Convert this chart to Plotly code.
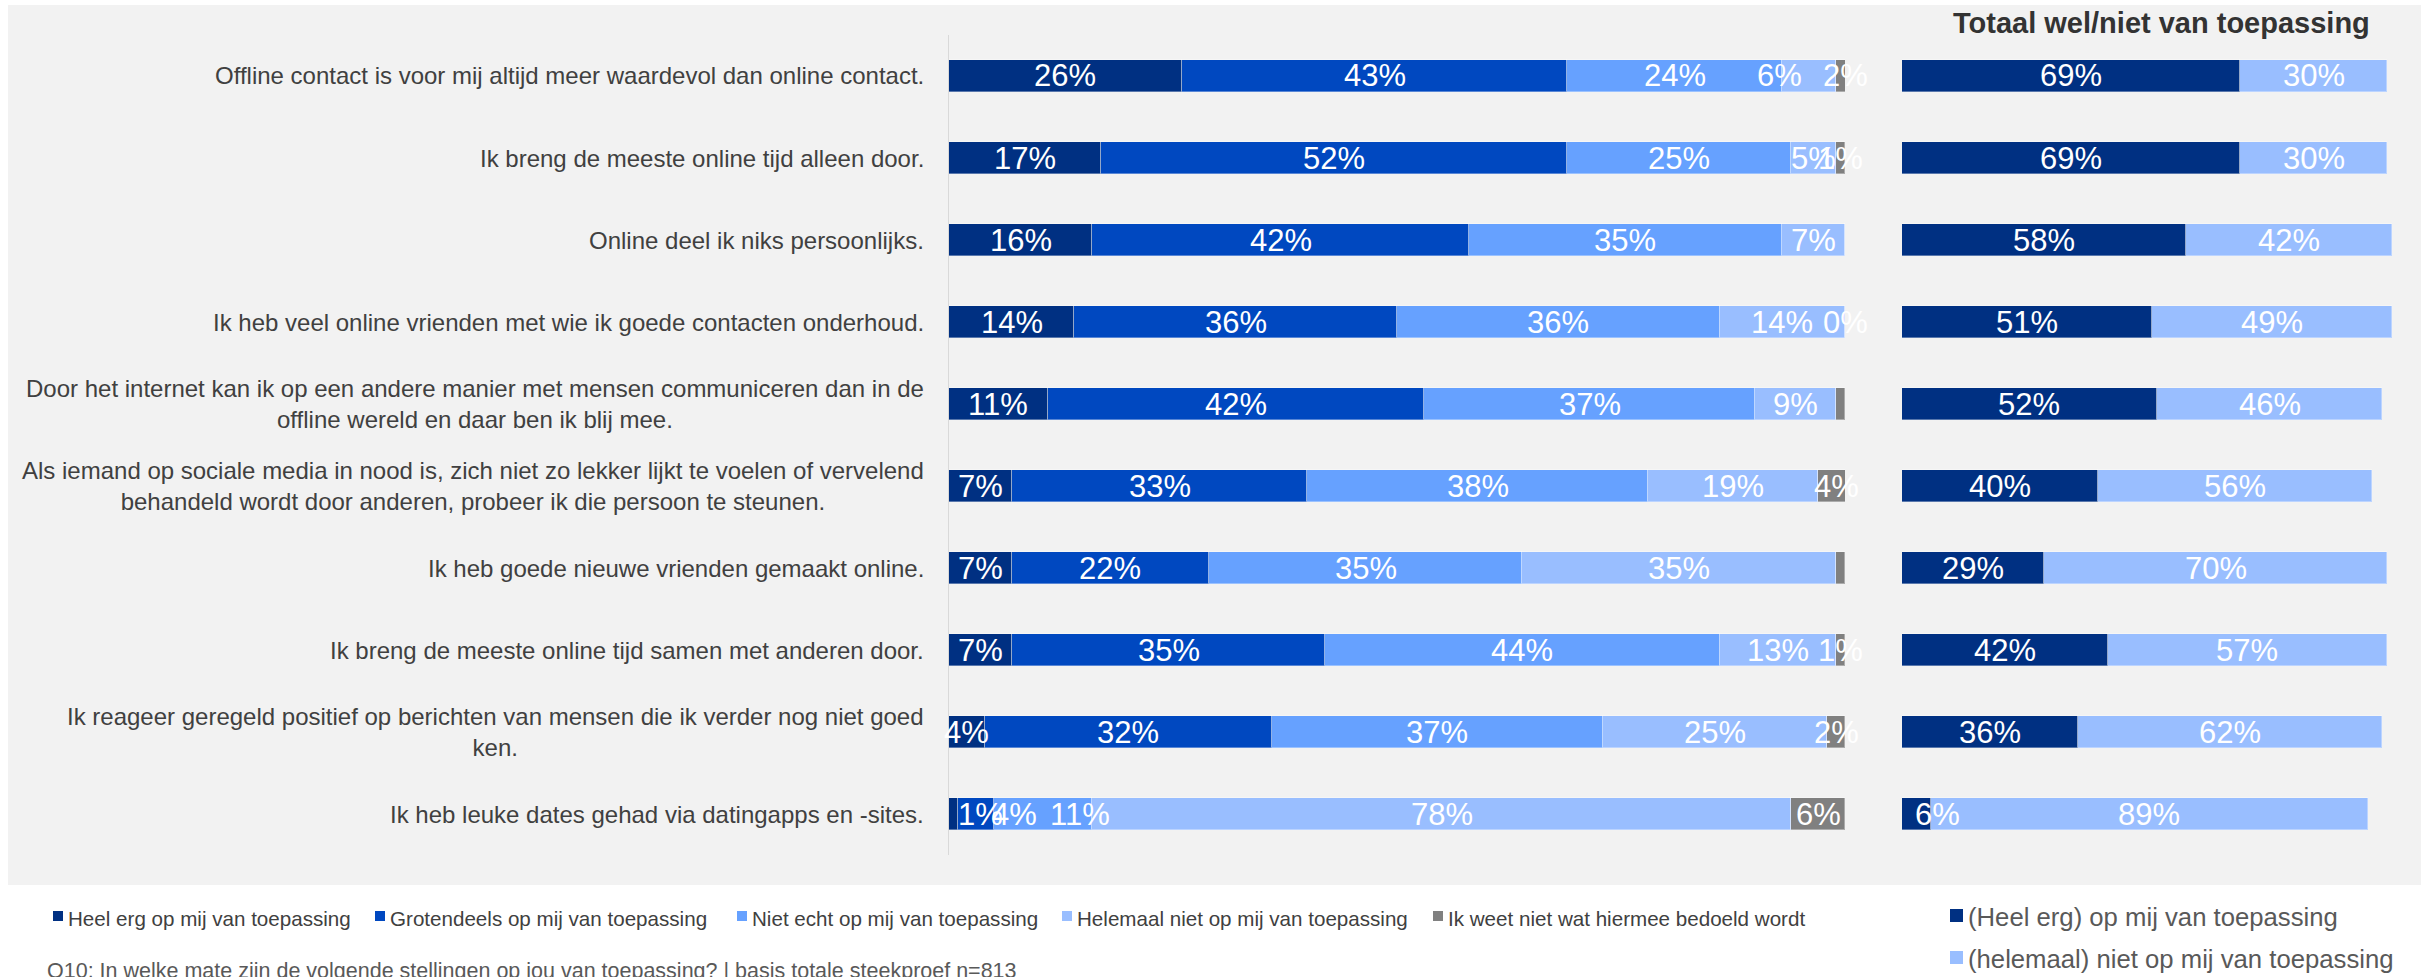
import plotly.graph_objects as go

# ---- data ----
statements = [
    "Offline contact is voor mij altijd meer waardevol dan online contact.",
    "Ik breng de meeste online tijd alleen door.",
    "Online deel ik niks persoonlijks.",
    "Ik heb veel online vrienden met wie ik goede contacten onderhoud.",
    "Door het internet kan ik op een andere manier met mensen communiceren dan in de<br>offline wereld en daar ben ik blij mee.",
    "Als iemand op sociale media in nood is, zich niet zo lekker lijkt te voelen of vervelend<br>behandeld wordt door anderen, probeer ik die persoon te steunen.",
    "Ik heb goede nieuwe vrienden gemaakt online.",
    "Ik breng de meeste online tijd samen met anderen door.",
    "Ik reageer geregeld positief op berichten van mensen die ik verder nog niet goed<br>ken.",
    "Ik heb leuke dates gehad via datingapps en -sites.",
]

series_names = [
    "Heel erg op mij van toepassing",
    "Grotendeels op mij van toepassing",
    "Niet echt op mij van toepassing",
    "Helemaal niet op mij van toepassing",
    "Ik weet niet wat hiermee bedoeld wordt",
]
heel_erg = [26, 17, 16, 14, 11, 7, 7, 7, 4, 1]
grotendeels = [43, 52, 42, 36, 42, 33, 22, 35, 32, 4]
niet_echt = [24, 25, 35, 36, 37, 38, 35, 44, 37, 11]
helemaal_niet = [6, 5, 7, 14, 9, 19, 35, 13, 25, 78]
weet_niet = [2, 1, 0.3, 0, 1, 4, 1, 1, 2, 6]
# labels printed on the "weet niet" segments (some are left blank)
weet_niet_labels = ["2%", "1%", "", "0%", "", "4%", "", "1%", "2%", "6%"]

total_names = ["(Heel erg) op mij van toepassing", "(helemaal) niet op mij van toepassing"]
totaal_wel = [69, 69, 58, 51, 52, 40, 29, 42, 36, 6]
totaal_niet = [30, 30, 42, 49, 46, 56, 70, 57, 62, 89]

panel_title = "Totaal wel/niet van toepassing"
footnote = "Q10: In welke mate zijn de volgende stellingen op jou van toepassing? | basis totale steekproef n=813"

# ---- styling ----
W, H = 2428, 977
FONT = "Liberation Sans, Arial, Helvetica, sans-serif"
COLORS = ["#003082", "#0048C0", "#66A1FF", "#99BEFF", "#808080"]
TOTAL_COLORS = ["#003082", "#99BEFF"]
PANEL = "#F2F2F2"
TEXT = "#404040"

# small pixel nudges for crowded value labels: (series, row) -> px
label_nudge = {(3, 0): -30, (0, 9): 27, (1, 9): 39, (2, 9): 37}
total_nudge = {(0, 9): 21}


def px_x(p):
    return p / W


def px_y(p):
    return 1 - p / H


rows = list(range(len(statements)))
series = [heel_erg, grotendeels, niet_echt, helemaal_niet, weet_niet]
totals = [totaal_wel, totaal_niet]

fig = go.Figure()
bar_line = dict(color="rgba(255,255,255,0.35)", width=1)

for name, vals, col in zip(series_names, series, COLORS):
    fig.add_trace(go.Bar(
        x=vals, y=rows, orientation="h", name=name, width=0.4,
        marker=dict(color=col, line=bar_line),
        xaxis="x", yaxis="y", showlegend=False, hoverinfo="skip",
    ))

for name, vals, col in zip(total_names, totals, TOTAL_COLORS):
    fig.add_trace(go.Bar(
        x=vals, y=rows, orientation="h", name=name, width=0.4,
        marker=dict(color=col, line=bar_line),
        xaxis="x2", yaxis="y2", showlegend=False, hoverinfo="skip",
    ))

annotations = []
value_font = dict(family=FONT, size=31, color="white")

# value labels on the detailed bars
for r in rows:
    start = 0
    for s, vals in enumerate(series):
        v = vals[r]
        mid = start + v / 2
        start += v
        label = weet_niet_labels[r] if s == 4 else f"{v:g}%"
        if not label:
            continue
        annotations.append(dict(
            x=mid, y=r, xref="x", yref="y", text=label, showarrow=False,
            xanchor="center", yanchor="middle", font=value_font,
            xshift=label_nudge.get((s, r), 0),
        ))

# value labels on the total bars
for r in rows:
    start = 0
    for s, vals in enumerate(totals):
        v = vals[r]
        mid = start + v / 2
        start += v
        annotations.append(dict(
            x=mid, y=r, xref="x2", yref="y2", text=f"{v:g}%", showarrow=False,
            xanchor="center", yanchor="middle", font=value_font,
            xshift=total_nudge.get((s, r), 0),
        ))

# statement labels
for r, txt in enumerate(statements):
    annotations.append(dict(
        x=px_x(926), y=r, xref="paper", yref="y", text=txt, showarrow=False,
        xanchor="right", yanchor="middle", align="center",
        font=dict(family=FONT, size=24, color=TEXT),
    ))

# panel title
annotations.append(dict(
    x=px_x(2372), y=px_y(23), xref="paper", yref="paper",
    text=f"<b>{panel_title}</b>", showarrow=False,
    xanchor="right", yanchor="middle",
    font=dict(family=FONT, size=29, color="#333333"),
))

shapes = [dict(
    type="rect", xref="paper", yref="paper",
    x0=px_x(8), x1=px_x(2421), y0=px_y(885), y1=px_y(5),
    fillcolor=PANEL, line=dict(width=0), layer="below",
)]

# legend for the detailed bars
legend_x = [53, 375, 737, 1062, 1433]
for name, col, lx in zip(series_names, COLORS, legend_x):
    shapes.append(dict(
        type="rect", xref="paper", yref="paper",
        x0=px_x(lx), x1=px_x(lx + 10), y0=px_y(921), y1=px_y(911),
        fillcolor=col, line=dict(width=0),
    ))
    annotations.append(dict(
        x=px_x(lx + 13), y=px_y(918), xref="paper", yref="paper",
        text=name, showarrow=False, xanchor="left", yanchor="middle",
        font=dict(family=FONT, size=20.6, color=TEXT),
    ))

# legend for the totals
for name, col, ly in zip(total_names, TOTAL_COLORS, [916, 958]):
    shapes.append(dict(
        type="rect", xref="paper", yref="paper",
        x0=px_x(1950), x1=px_x(1963), y0=px_y(ly + 6), y1=px_y(ly - 7),
        fillcolor=col, line=dict(width=0),
    ))
    annotations.append(dict(
        x=px_x(1966), y=px_y(ly + 1), xref="paper", yref="paper",
        text=name, showarrow=False, xanchor="left", yanchor="middle",
        font=dict(family=FONT, size=25.7, color="#595959"),
    ))

# footnote
annotations.append(dict(
    x=px_x(45), y=px_y(971), xref="paper", yref="paper",
    text=footnote, showarrow=False, xanchor="left", yanchor="middle",
    font=dict(family=FONT, size=21.5, color="#595959"),
))

y_common = dict(
    domain=[px_y(855), px_y(35)], range=[len(rows) - 0.5, -0.5],
    showticklabels=False, showgrid=False, zeroline=False, fixedrange=True,
)

fig.update_layout(
    width=W, height=H, margin=dict(l=0, r=0, t=0, b=0),
    paper_bgcolor="white", plot_bgcolor="rgba(0,0,0,0)",
    barmode="stack", bargap=0,
    font=dict(family=FONT, color=TEXT),
    xaxis=dict(domain=[px_x(949), px_x(1845)], range=[0, 100], visible=False,
               fixedrange=True, anchor="y"),
    xaxis2=dict(domain=[px_x(1902), px_x(2392)], range=[0, 100], visible=False,
                fixedrange=True, anchor="y2"),
    yaxis=dict(**y_common, anchor="x", showline=True, linecolor="#D9D9D9",
               linewidth=1),
    yaxis2=dict(**y_common, anchor="x2", showline=False),
    shapes=shapes,
    annotations=annotations,
    showlegend=False,
)

fig.write_html("out.html")
